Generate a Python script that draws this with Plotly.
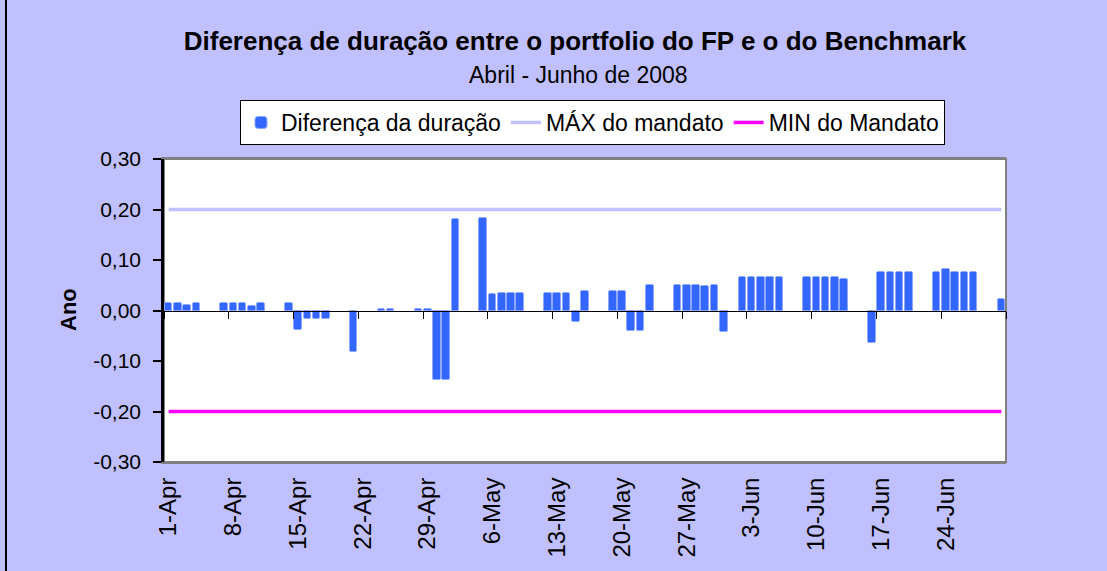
import plotly.graph_objects as go

# ---------------- data ----------------
dates = [
    "2008-04-01", "2008-04-02", "2008-04-03", "2008-04-04",
    "2008-04-07", "2008-04-08", "2008-04-09", "2008-04-10", "2008-04-11",
    "2008-04-14", "2008-04-15", "2008-04-16", "2008-04-17", "2008-04-18",
    "2008-04-21", "2008-04-24", "2008-04-25",
    "2008-04-28", "2008-04-29", "2008-04-30", "2008-05-01", "2008-05-02",
    "2008-05-05", "2008-05-06", "2008-05-07", "2008-05-08", "2008-05-09",
    "2008-05-12", "2008-05-13", "2008-05-14", "2008-05-15", "2008-05-16",
    "2008-05-19", "2008-05-20", "2008-05-21", "2008-05-22", "2008-05-23",
    "2008-05-26", "2008-05-27", "2008-05-28", "2008-05-29", "2008-05-30", "2008-05-31",
    "2008-06-02", "2008-06-03", "2008-06-04", "2008-06-05", "2008-06-06",
    "2008-06-09", "2008-06-10", "2008-06-11", "2008-06-12", "2008-06-13",
    "2008-06-16", "2008-06-17", "2008-06-18", "2008-06-19", "2008-06-20",
    "2008-06-23", "2008-06-24", "2008-06-25", "2008-06-26", "2008-06-27",
    "2008-06-30",
]
diferenca = [
    0.015, 0.015, 0.010, 0.015,
    0.015, 0.015, 0.015, 0.008, 0.014,
    0.014, -0.039, -0.016, -0.016, -0.016,
    -0.083, 0.003, 0.003,
    0.003, 0.003, -0.138, -0.138, 0.181,
    0.183, 0.032, 0.034, 0.034, 0.034,
    0.034, 0.034, 0.034, -0.022, 0.038,
    0.038, 0.038, -0.040, -0.040, 0.050,
    0.050, 0.050, 0.050, 0.049, 0.050, -0.042,
    0.067, 0.067, 0.066, 0.067, 0.066,
    0.066, 0.067, 0.067, 0.066, 0.062,
    -0.064, 0.077, 0.077, 0.077, 0.077,
    0.076, 0.082, 0.077, 0.077, 0.077,
    0.022,
]
mandato_dates = ["2008-04-01", "2008-06-30"]
max_mandato = [0.20, 0.20]
min_mandato = [-0.20, -0.20]

x_tick_dates = ["2008-04-01", "2008-04-08", "2008-04-15", "2008-04-22", "2008-04-29",
                "2008-05-06", "2008-05-13", "2008-05-20", "2008-05-27",
                "2008-06-03", "2008-06-10", "2008-06-17", "2008-06-24"]
x_tick_labels = ["1-Apr", "8-Apr", "15-Apr", "22-Apr", "29-Apr", "6-May", "13-May",
                 "20-May", "27-May", "3-Jun", "10-Jun", "17-Jun", "24-Jun"]
y_tick_vals = [-0.30, -0.20, -0.10, 0.00, 0.10, 0.20, 0.30]
y_tick_labels = ["-0,30", "-0,20", "-0,10", "0,00", "0,10", "0,20", "0,30"]

title_text = "Diferença de duração entre o portfolio do FP e o do Benchmark"
subtitle_text = "Abril - Junho de 2008"
y_title = "Ano"

# ---------------- figure ----------------
W, H = 1107, 571
L, R, T, B = 164, 101, 159, 109
pw, ph = W - L - R, H - T - B
FONT = "Arial, Liberation Sans, sans-serif"
BG = "#C0C0FF"
DAY = 86400000
x_range = ["2008-03-31 12:00", "2008-06-30 12:00"]

fig = go.Figure()
fig.add_trace(go.Bar(
    x=dates, y=diferenca, name="Diferença da duração",
    width=0.82 * DAY,
    marker=dict(color="#3366FF", line=dict(color="#8FA8FF", width=1), cornerradius=2),
    xaxis="x", yaxis="y",
))
fig.add_trace(go.Scatter(
    x=mandato_dates, y=max_mandato, name="MÁX do mandato", mode="lines",
    line=dict(color="#C0C0FF", width=3.5),
))
fig.add_trace(go.Scatter(
    x=mandato_dates, y=min_mandato, name="MIN do Mandato", mode="lines",
    line=dict(color="#FF00FF", width=3.5),
))
# helper trace for the axis drawn at zero (tick marks between weeks)
fig.add_trace(go.Scatter(
    x=mandato_dates, y=[0, 0], xaxis="x2", yaxis="y", mode="lines",
    line=dict(color="rgba(0,0,0,0)"), showlegend=False, hoverinfo="skip",
))

fig.update_layout(
    width=W, height=H,
    margin=dict(l=L, r=R, t=T, b=B, pad=0),
    paper_bgcolor=BG, plot_bgcolor="white",
    font=dict(family=FONT, size=20, color="black"),
    separators=",.",
    bargap=0,
    title=dict(text="<b>" + title_text + "</b>", x=575 / W, xanchor="center",
               y=1 - 41 / H, yanchor="middle", font=dict(size=26, family=FONT)),
    xaxis=dict(
        type="date", range=x_range,
        tickvals=x_tick_dates, ticktext=x_tick_labels, tickangle=-90,
        ticklabelstandoff=4,
        showgrid=False, zeroline=False, ticks="",
        showline=True, linecolor="#808080", linewidth=2, mirror=True,
        tickfont=dict(size=24),
    ),
    xaxis2=dict(
        type="date", range=x_range, overlaying="x", anchor="free", position=0.5,
        side="bottom",
        tick0="2008-03-31 12:00", dtick=7 * DAY,
        ticks="outside", ticklen=7, tickcolor="black", tickwidth=1,
        showticklabels=False, showgrid=False, zeroline=False,
        showline=True, linecolor="black", linewidth=1,
    ),
    yaxis=dict(
        range=[-0.30, 0.30], tickvals=y_tick_vals, ticktext=y_tick_labels,
        ticks="outside", ticklen=8, tickcolor="black", tickwidth=2,
        ticklabelstandoff=8,
        showgrid=False, zeroline=False,
        showline=True, linecolor="black", linewidth=2.5,
        tickfont=dict(size=21),
    ),
    legend=dict(
        orientation="h", x=(240 - L) / pw, xanchor="left",
        y=(H - B - 100) / ph, yanchor="top",
        bgcolor="white", bordercolor="black", borderwidth=1,
        font=dict(size=23), itemwidth=30, tracegroupgap=0,
    ),
    annotations=[
        dict(text=subtitle_text, xref="paper", yref="paper",
             x=(578 - L) / pw, y=(H - B - 75) / ph,
             xanchor="center", yanchor="middle", showarrow=False,
             font=dict(size=23)),
        dict(text="<b>" + y_title + "</b>", xref="paper", yref="paper",
             x=(68 - L) / pw, y=(H - B - 310) / ph, textangle=-90,
             xanchor="center", yanchor="middle", showarrow=False,
             font=dict(size=22)),
    ],
    shapes=[
        dict(type="rect", xref="paper", yref="paper", x0=0, x1=1, y0=0, y1=1,
             line=dict(color="#808080", width=2), layer="below"),
        dict(type="line", xref="paper", yref="paper",
             x0=(6 - L) / pw, x1=(6 - L) / pw,
             y0=(H - B - H) / ph, y1=(H - B) / ph,
             line=dict(color="black", width=2)),
    ],
)

fig.write_html("out.html", config={"displayModeBar": False},
               post_script="document.body.style.margin='0';")
